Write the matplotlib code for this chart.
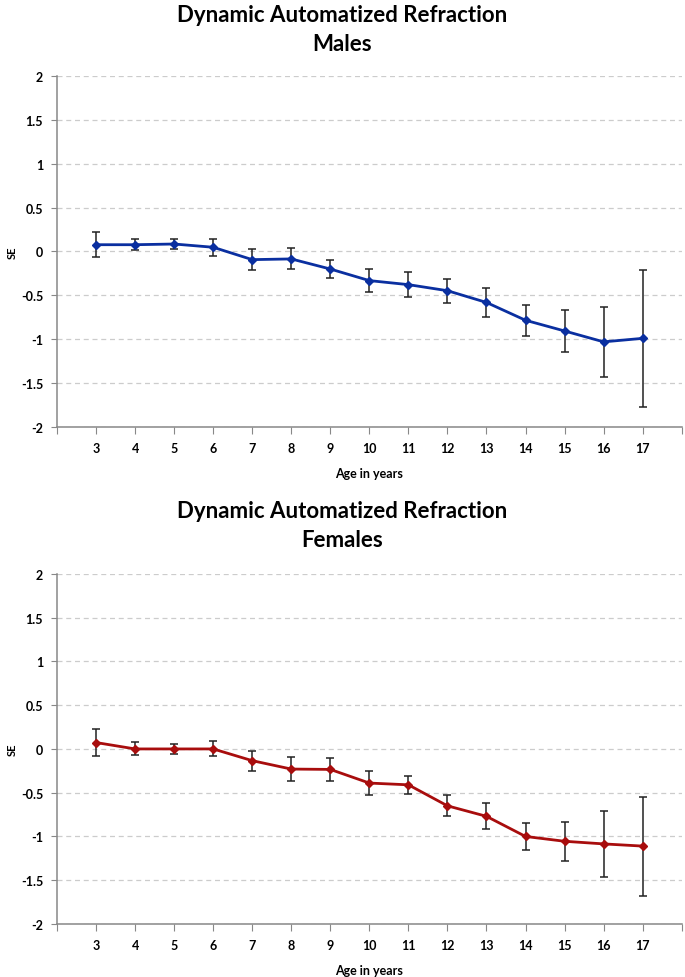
import matplotlib.pyplot as plt
import numpy as np

# ages and spherical equivalent (mean, error)
ages = [3, 4, 5, 6, 7, 8, 9, 10, 11, 12, 13, 14, 15, 16, 17]

males_se = [0.077, 0.077, 0.085, 0.048, -0.093, -0.085, -0.20, -0.332, -0.378,
            -0.447, -0.581, -0.784, -0.906, -1.03, -0.99]
males_err = [0.14, 0.065, 0.053, 0.095, 0.12, 0.12, 0.105, 0.135, 0.14,
             0.135, 0.165, 0.175, 0.24, 0.40, 0.78]

females_se = [0.073, 0.0, 0.0, 0.0, -0.134, -0.23, -0.234, -0.39, -0.41,
              -0.65, -0.77, -1.0, -1.055, -1.085, -1.11]
females_err = [0.155, 0.075, 0.062, 0.086, 0.115, 0.138, 0.13, 0.135, 0.105,
               0.12, 0.15, 0.155, 0.225, 0.38, 0.565]

y_ticks = [-2, -1.5, -1, -0.5, 0, 0.5, 1, 1.5, 2]
y_labels = ['-2', '-1.5', '-1', '-0.5', '0', '0.5', '1', '1.5', '2']

font = ['Lato', 'DejaVu Sans']

fig = plt.figure(figsize=(6.85, 9.78), dpi=100)


def draw(rect, se, err, color, subtitle, title_y):
    ax = fig.add_axes(rect)
    x = np.arange(len(ages)) + 3
    ax.errorbar(x, se, yerr=err, fmt='none', ecolor='#222222', elinewidth=1.1,
                capsize=3, capthick=1.1, zorder=2)
    ax.plot(x, se, color=color, lw=2, marker='D', ms=4, zorder=3)

    ax.set_xlim(2, 18)
    ax.set_ylim(-2, 2)
    ax.set_xticks(np.arange(2, 19))
    ax.set_xticklabels([''] + [str(a) for a in ages] + [''],
                       fontsize=9, fontweight='bold', family=font)
    ax.set_yticks(y_ticks)
    ax.set_yticklabels(y_labels, fontsize=9, fontweight='bold', family=font)
    ax.tick_params(axis='x', length=5, color='#888888', pad=6)
    ax.tick_params(axis='y', length=4, color='#888888', pad=6)
    ax.grid(axis='y', ls=(0, (4, 3)), color='#cccccc', lw=0.9)
    ax.set_axisbelow(True)
    for s in ['top', 'right']:
        ax.spines[s].set_visible(False)
    for s in ['left', 'bottom']:
        ax.spines[s].set_color('#888888')
        ax.spines[s].set_linewidth(1.1)

    ax.set_xlabel('Age in years', fontsize=9, fontweight='bold', family=font,
                  labelpad=9)
    ax.set_ylabel('SE', fontsize=8, fontweight='bold', family=font)
    ax.yaxis.set_label_coords(-0.062, 0.5)

    fig.text(0.5, title_y, 'Dynamic Automatized Refraction\n' + subtitle,
             ha='center', va='top', fontsize=16, fontweight='bold',
             family=font, linespacing=1.5)
    return ax


draw([0.0832, 0.5624, 0.912, 0.3589], males_se, males_err, '#0a2fa0',
     'Males', 0.995)
draw([0.0832, 0.0542, 0.912, 0.358], females_se, females_err, '#a80d0d',
     'Females', 0.488)

plt.savefig('out.png', dpi=100)
